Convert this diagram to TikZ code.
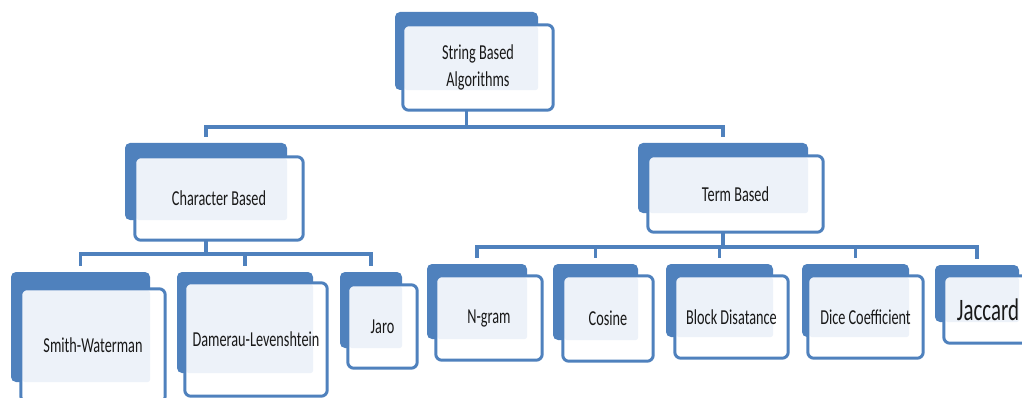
\documentclass[tikz,border=0pt]{standalone}
\usepackage{fontspec}
\setmainfont{Carlito}
\usetikzlibrary{fit,backgrounds}

\definecolor{algblue}{RGB}{79,129,189}
\definecolor{alglight}{RGB}{237,242,249}

\tikzset{
    backbox/.style={fill=algblue, rounded corners=5pt, inner sep=0pt},
    frontbox/.style={fill=white, rounded corners=6pt, inner sep=0pt},
    frontline/.style={draw=algblue, line width=3pt, rounded corners=6pt},
    boxtext/.style={font=\fontsize{15}{19}\selectfont, text=black!90, align=center, inner sep=0pt},
    link/.style={draw=algblue, line width=3.5pt, shorten >=6pt}
}

% tall, narrow text as in the picture
\newcommand{\tallt}[1]{\scalebox{0.95}[1.42]{#1}}

% name, back corners, front corners, text
\newcommand{\algbox}[6]{%
    \node[backbox, fit={(#2) (#3)}] (#1) {};
    \node[frontbox, fit={(#4) (#5)}] (#1-f) {};
    \fill[alglight, rounded corners=3pt] ([shift={(1.5pt,-1.5pt)}]#1-f.north west) rectangle (#1.south east);
    \draw[frontline] (#1-f.north west) rectangle (#1-f.south east);
    \node[boxtext] (#1-t) at (#1-f.center) {#6};
}

\begin{document}
\begin{tikzpicture}[x=1pt, y=-1pt]
    \useasboundingbox (0,0) rectangle (1022,398);
    \clip (0,0) rectangle (1022,398);

    % Root
    \algbox{top}{395,12}{538,90}{403,25}{553,110}{\tallt{\begin{tabular}{@{}c@{}}String Based\\Algorithms\end{tabular}}}

    % Level 1
    \algbox{char}{125,143}{287,220}{135,157}{303,240}{\tallt{Character Based}}
    \algbox{term}{638,143}{808,213}{648,156}{823,232}{\tallt{Term Based}}

    % Level 2
    \algbox{smith}{11,272}{150,382}{21,289}{165,402}{\tallt{Smith-Waterman}}
    \algbox{damerau}{177,272}{313,373}{185,283}{327,396}{\tallt{Damerau-Levenshtein}}
    \algbox{jaro}{340,272}{402,348}{348,285}{417,368}{\tallt{Jaro}}
    \algbox{ngram}{427,264}{527,339}{436,276}{542,360}{\tallt{N-gram}}
    \algbox{cosine}{553,264}{638,340}{563,276}{653,361}{\tallt{Cosine}}
    \algbox{block}{666,264}{773,337}{675,276}{788,358}{\tallt{Block Disatance}}
    \algbox{dice}{802,264}{909,337}{808,276}{923,358}{\tallt{Dice Coefficient}}
    \algbox{jaccard}{935,265}{1019,322}{944,276}{1032,343}{\tallt{\fontsize{22}{26}\selectfont Jaccard}}

    % Connectors
    \coordinate (bus1) at (0,127);
    \coordinate (bus2) at (0,254);
    \coordinate (bus3) at (0,247);
    \begin{scope}[on background layer]
        \foreach \c in {char,term}
            \draw[link] (top.south) -- (top.south |- bus1) -| (\c.north);
        \foreach \c in {smith,damerau,jaro}
            \draw[link] (char.south) -- (char.south |- bus2) -| (\c.north);
        \foreach \c in {ngram,cosine,block,dice,jaccard}
            \draw[link] (term.south) -- (term.south |- bus3) -| (\c.north);
    \end{scope}
\end{tikzpicture}
\end{document}
